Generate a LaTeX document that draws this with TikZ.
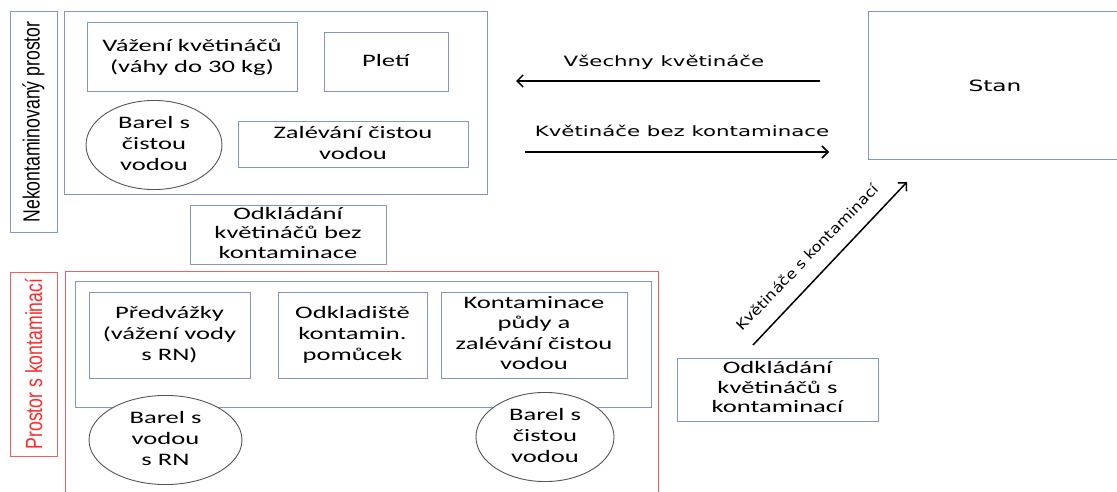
\documentclass[tikz,border=0pt]{standalone}
\usepackage{fontspec}
\usepackage{graphicx}
\setmainfont{Carlito}
\newfontfamily\verd{DejaVu Sans}
\newfontfamily\narrowf{Liberation Sans}
\usetikzlibrary{arrows.meta,shapes.geometric}
\definecolor{boxblue}{HTML}{7F97C3}
\definecolor{boxred}{HTML}{F06060}
\definecolor{labred}{HTML}{FF2A2A}
\definecolor{ellgray}{HTML}{555555}
\newcommand{\wtxt}[1]{\scalebox{1.52}[1]{\fontsize{17.5}{21}\selectfont\begin{tabular}{@{}c@{}}#1\end{tabular}}}
\newcommand{\vtxt}[2]{\scalebox{1.5}[1]{\verd\fontsize{#1}{#1}\selectfont #2}}
\newcommand{\rotlab}[1]{\rotatebox{90}{\scalebox{0.98}[1.3]{\narrowf\fontsize{18}{20}\selectfont #1}}}
\tikzset{
  bluebox/.style={draw=boxblue, line width=1pt, inner sep=0pt, rectangle},
  redbox/.style={draw=boxred, line width=1pt, inner sep=0pt, rectangle},
  barrel/.style={draw=ellgray, line width=0.9pt, inner sep=0pt, ellipse},
  arr/.style={-{Straight Barb[length=6pt,width=12pt]}, line width=1.5pt, black},
  lbl/.style={inner sep=0pt}
}
\begin{document}
\begin{tikzpicture}[x=1pt,y=-1pt]
\useasboundingbox (0,0) rectangle (1117,492);
% top region
\node[bluebox, minimum width=47, minimum height=220] (nklab) at (33.5,122) {\rotlab{Nekontaminovaný prostor}};
\node[bluebox, minimum width=423, minimum height=183] (nkreg) at (275.5,103.5) {};
\node[bluebox, minimum width=210, minimum height=69] (vaz) at (192,57.5) {\wtxt{Vážení květináčů\\(váhy do 30 kg)}};
\node[bluebox, minimum width=124, minimum height=59] (plet) at (386,62.5) {\wtxt{Pletí}};
\node[barrel, minimum width=136, minimum height=74] (bar1) at (154,145) {\wtxt{Barel s\\čistou\\vodou}};
\node[bluebox, minimum width=230, minimum height=46] (zal) at (353,145) {\wtxt{Zalévání čistou\\vodou}};
\node[bluebox, minimum width=196, minimum height=56] (odk1) at (288,235) {\scalebox{1.52}[1]{\fontsize{17.5}{19.5}\selectfont\begin{tabular}{@{}c@{}}Odkládání\\květináčů bez\\kontaminace\end{tabular}}};
% bottom region
\node[redbox, minimum width=47, minimum height=184] (kolab) at (33.5,364) {\color{labred}\rotlab{Prostor s kontaminací}};
\node[redbox, minimum width=593, minimum height=240] (koreg) at (361.5,391) {};
\node[bluebox, minimum width=576, minimum height=126] (inner) at (363,344) {};
\node[bluebox, minimum width=161, minimum height=86] (pred) at (169.5,335) {\wtxt{Předvážky\\(vážení vody\\s RN)}};
\node[bluebox, minimum width=149, minimum height=86] (odkl) at (352.5,335) {\wtxt{Odkladiště\\kontamin.\\pomůcek}};
\node[bluebox, minimum width=186, minimum height=86] (kont) at (534,335) {\scalebox{1.52}[1]{\fontsize{17.5}{20.5}\selectfont\begin{tabular}{@{}c@{}}Kontaminace\\půdy a\\zalévání čistou\\vodou\end{tabular}}};
\node[barrel, fill=white, minimum width=153, minimum height=84] (bar2) at (165.5,440) {\wtxt{Barel s\\vodou\\s RN}};
\node[barrel, fill=white, minimum width=138, minimum height=86] (bar3) at (545,437) {\wtxt{Barel s\\čistou\\vodou}};
\node[bluebox, minimum width=201, minimum height=63] (odk2) at (777.5,389.5) {\scalebox{1.52}[1]{\fontsize{17.5}{19.5}\selectfont\begin{tabular}{@{}c@{}}Odkládání\\květináčů s\\kontaminací\end{tabular}}};
% tent
\node[bluebox, minimum width=257, minimum height=148] (stan) at (996.5,86) {};
\node[lbl] (stanl) at (995,86) {\vtxt{15.5}{Stan}};
% arrows
\coordinate (a1s) at (820,81);
\coordinate (a1e) at (516,81);
\coordinate (a2s) at (525,152);
\coordinate (a2e) at (829,152);
\coordinate (a3s) at (753,345);
\coordinate (a3e) at (907,182);
\draw[arr] (a1s) -- (a1e);
\draw[arr] (a2s) -- (a2e);
\draw[arr] (a3s) -- (a3e);
\node[lbl] (l1) at (664,62) {\vtxt{14.2}{Všechny květináče}};
\node[lbl] (l2) at (682,131) {\vtxt{14.2}{Květináče bez kontaminace}};
\node[lbl, rotate=46] (l3) at (807,257) {\scalebox{1.15}[1]{\verd\fontsize{14}{14}\selectfont Květináče s kontaminací}};
\end{tikzpicture}
\end{document}
